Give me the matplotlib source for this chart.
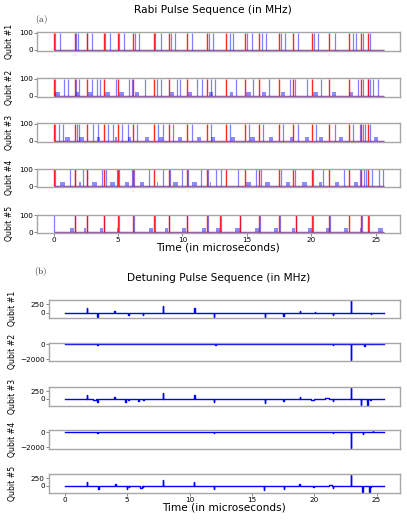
#This program draws the Rabi and detuning pulse sequences for five qubits

import matplotlib
matplotlib.use('Agg')
import matplotlib.pyplot as plt


#End of the sequence (microseconds)
T_END = 25.6

#Amplitude of the strong Rabi pulses and of the small blue plateaus (MHz)
PULSE_LEVEL = 100
BAR_LEVEL = 22

#Red pulse times shared by qubits 1 to 4
gate_times = [0.0, 1.65, 2.58, 3.90, 5.03, 6.17, 7.82, 8.93, 10.32, 11.92,
              13.42, 14.89, 15.97, 17.49, 18.58, 20.05, 21.41, 22.91, 23.89, 24.43]

#Qubit #1 (Rabi)
q1_blue = [0.08, 0.52, 1.75, 1.93, 2.62, 2.97, 4.02, 4.39, 5.10, 5.49, 6.32, 6.66,
           7.87, 8.31, 9.08, 9.42, 10.71, 12.07, 12.38, 13.67, 13.93, 15.02, 15.40,
           16.15, 16.46, 17.67, 17.98, 18.96, 20.18, 20.51, 21.80, 23.22, 23.48,
           23.99, 24.59]
q1_bar_start = []
q1_bar_width = []

#Qubit #2 (Rabi)
q2_blue = [0.13, 0.85, 1.16, 1.78, 1.96, 2.97, 3.35, 3.61, 4.82, 5.86, 6.11, 7.12,
           8.00, 8.33, 9.55, 9.80, 11.15, 11.53, 12.23, 12.51, 14.19, 15.48, 16.72,
           18.32, 18.76, 19.66, 20.77, 23.61, 23.99, 24.38, 24.59, 24.82, 25.15]
q2_bar_start = [0.13, 1.78, 2.66, 4.02, 5.11, 6.32, 9.03, 10.40, 12.07, 13.67,
                14.96, 16.15, 17.67, 20.12, 21.57, 22.96]
q2_bar_width = [0.39, 0.23, 0.31, 0.36, 0.36, 0.34, 0.31, 0.31, 0.31, 0.26,
                0.39, 0.31, 0.31, 0.39, 0.36, 0.31]

#Qubit #3 (Rabi)
q3_blue = [0.13, 0.39, 0.77, 1.81, 2.01, 3.04, 3.43, 4.26, 4.64, 5.29, 5.80, 6.50,
           8.13, 8.51, 9.24, 10.71, 12.18, 13.67, 15.17, 16.25, 17.80, 18.96, 20.33,
           21.80, 23.22, 23.74, 23.99, 24.15, 24.56]
q3_bar_start = [0.90, 1.99, 3.35, 4.77, 5.80, 7.09, 8.18, 9.62, 11.17, 12.18,
                13.75, 15.27, 16.72, 18.32, 19.48, 20.59, 22.14, 24.90]
q3_bar_width = [0.39, 0.34, 0.26, 0.18, 0.18, 0.31, 0.34, 0.31, 0.31, 0.34,
                0.31, 0.34, 0.31, 0.26, 0.31, 0.31, 0.31, 0.26]

#Qubit #4 (Rabi)
q4_blue = [0.13, 1.29, 1.70, 2.32, 2.63, 3.74, 4.08, 4.90, 5.08, 6.06, 6.24, 7.43,
           8.51, 9.03, 9.93, 10.45, 11.48, 12.00, 12.59, 13.03, 14.32, 15.74, 16.12,
           17.62, 18.71, 20.12, 20.90, 22.50, 23.74, 24.07, 24.25, 24.69, 25.28, 25.59]
q4_bar_start = [0.52, 1.99, 2.97, 4.39, 5.55, 6.71, 8.00, 9.29, 10.78, 12.13,
                14.96, 16.43, 18.01, 19.30, 20.59, 21.80, 23.35]
q4_bar_width = [0.39, 0.13, 0.39, 0.39, 0.34, 0.34, 0.13, 0.39, 0.36, 0.08,
                0.36, 0.34, 0.36, 0.36, 0.26, 0.34, 0.26]

#Qubit #5 (Rabi)
q5_red = [1.65, 2.58, 3.92, 5.03, 6.17, 7.82, 8.93, 10.32, 11.92, 12.93,
          14.45, 15.97, 17.49, 18.78, 20.05, 21.41, 22.91, 23.89, 24.43]
q5_blue = [0.0, 1.70, 2.63, 3.95, 5.08, 6.22, 7.87, 8.98, 10.37, 11.97, 12.98,
           14.50, 16.02, 17.54, 18.83, 20.10, 21.46, 23.94, 24.48]
q5_bar_start = [1.29, 2.37, 3.61, 4.90, 7.43, 8.64, 9.96, 11.53, 12.59, 14.11,
                15.63, 17.08, 18.52, 19.74, 21.16, 22.52, 23.74, 25.18]
q5_bar_width = [0.31, 0.15, 0.26, 0.13, 0.31, 0.26, 0.31, 0.28, 0.31, 0.34,
                0.31, 0.36, 0.21, 0.31, 0.26, 0.34, 0.13, 0.36]

#Detuning pulses: start time, duration and value (MHz)
d1_start = [1.74, 2.60, 3.97, 5.07, 6.25, 7.86, 10.36, 11.94, 14.54, 16.04,
            17.52, 18.83, 20.06, 21.49, 22.93, 24.54]
d1_dur = [0.04, 0.04, 0.04, 0.04, 0.04, 0.04, 0.04, 0.04, 0.04, 0.04,
          0.04, 0.04, 0.04, 0.04, 0.04, 0.04]
d1_value = [130, -120, 55, -65, -65, 195, 130, -120, -20, -140,
            -90, 60, 25, -65, 360, -55]

d2_start = [1.88, 2.60, 5.10, 6.30, 7.90, 12.05, 21.50, 22.93, 24.00, 24.60]
d2_dur = [0.04, 0.04, 0.04, 0.04, 0.04, 0.04, 0.04, 0.04, 0.04, 0.04]
d2_value = [20, -60, -30, -30, -30, -60, -60, -2160, -300, 110]

d3_start = [1.74, 2.23, 2.60, 3.35, 3.97, 4.83, 5.09, 5.90, 6.30, 7.86, 9.79,
            10.36, 11.94, 13.80, 16.04, 17.52, 18.36, 18.83, 19.70, 20.90, 21.49,
            22.93, 23.73, 24.26, 24.50]
d3_dur = [0.04, 0.25, 0.04, 0.30, 0.04, 0.04, 0.04, 0.04, 0.04, 0.04, 0.30,
          0.04, 0.04, 0.30, 0.04, 0.04, 0.25, 0.04, 0.25, 0.30, 0.04,
          0.04, 0.04, 0.04, 0.04]
d3_value = [130, -40, -120, -15, 50, -100, -60, -70, -60, 195, -15,
            130, -120, -10, -140, -90, -20, 50, -40, 20, -70,
            360, -210, -210, -50]

d4_start = [2.00, 2.60, 5.07, 6.25, 7.90, 11.94, 21.49, 22.93, 23.90, 24.70]
d4_dur = [0.04, 0.04, 0.04, 0.04, 0.04, 0.04, 0.04, 0.04, 0.04, 0.04]
d4_value = [20, -60, -30, -40, -30, -60, -60, -2160, -300, 100]

d5_start = [1.74, 2.30, 2.68, 3.55, 4.02, 4.96, 5.10, 6.05, 6.25, 7.86, 10.10,
            10.33, 11.93, 15.96, 17.57, 18.55, 18.80, 19.93, 21.20, 21.50,
            22.93, 23.87, 24.40, 24.50]
d5_dur = [0.04, 0.30, 0.04, 0.30, 0.04, 0.04, 0.04, 0.15, 0.04, 0.04, 0.20,
          0.04, 0.04, 0.04, 0.04, 0.20, 0.04, 0.04, 0.25, 0.04,
          0.04, 0.04, 0.04, 0.04]
d5_value = [130, -30, -110, -30, 50, -110, -60, -90, -60, 195, -15,
            130, -110, -140, -100, -20, 50, -60, 30, -70,
            360, -210, -210, -40]

qubit_labels = ['Qubit #1', 'Qubit #2', 'Qubit #3', 'Qubit #4', 'Qubit #5']
rabi_ticks = [0, 100]
detuning_ticks = [[0, 250], [-2000, 0], [0, 250], [-2000, 0], [0, 250]]
x_ticks = [0, 5, 10, 15, 20, 25]

SPINE = '#a6a6a6'


#Function to style one small axes
def styleAxes(ax, yticks, label, label_x, last):
    for s in ax.spines.values():
        s.set_color(SPINE)
        s.set_linewidth(1.0)
    ax.set_yticks(yticks)
    ax.tick_params(labelsize=5.2, length=2, width=0.5, pad=1, color='#555555')
    ax.set_xticks(x_ticks)
    if not last:
        ax.tick_params(axis='x', bottom=False, labelbottom=False)
    ax.set_ylabel(label, fontsize=5.6)
    ax.yaxis.set_label_coords(label_x, 0.5)


#Function to build a step curve out of detuning pulses
def detuningCurve(starts, durs, values):
    pulses = sorted(zip(starts, durs, values))
    xs = [0.0]
    ys = [0.0]
    for s, d, v in pulses:
        xs += [s, s, s + d, s + d]
        ys += [0, v, v, 0]
    xs.append(T_END)
    ys.append(0.0)
    return xs, ys


#Function to draw the Rabi panel
def drawRabi(fig):
    reds = [gate_times, gate_times, gate_times, gate_times, q5_red]
    blues = [q1_blue, q2_blue, q3_blue, q4_blue, q5_blue]
    bar_starts = [q1_bar_start, q2_bar_start, q3_bar_start, q4_bar_start, q5_bar_start]
    bar_widths = [q1_bar_width, q2_bar_width, q3_bar_width, q4_bar_width, q5_bar_width]
    tops = [32, 78, 123, 168.5, 214.5]

    for i in range(5):
        ax = fig.add_axes([37 / 407, 1 - (tops[i] + 18.5) / 527, 363 / 407, 18.5 / 527])

        #Baseline of both channels
        ax.hlines(0, 0, T_END, colors='r', alpha=0.5, linewidth=1.0)
        ax.hlines(0, 0, T_END, colors='b', alpha=0.4, linewidth=1.0)

        #Plateaus, blue pulses, red pulses
        ax.bar(bar_starts[i], [BAR_LEVEL] * len(bar_starts[i]), width=bar_widths[i],
               align='edge', color='b', alpha=0.45, linewidth=0)
        ax.vlines(blues[i], 0, PULSE_LEVEL, colors='b', alpha=0.5, linewidth=0.9)
        ax.vlines(reds[i], 0, PULSE_LEVEL, colors='r', alpha=0.85, linewidth=1.0)

        ax.set_xlim(-0.05 * T_END, 1.05 * T_END)
        ax.set_ylim(-0.05 * PULSE_LEVEL, 1.05 * PULSE_LEVEL)
        styleAxes(ax, rabi_ticks, qubit_labels[i], -0.062, i == 4)

    fig.text(213 / 407, 1 - 10 / 527, 'Rabi Pulse Sequence (in MHz)',
             ha='center', va='center', fontsize=7.6)
    fig.text(218 / 407, 1 - 248 / 527, 'Time (in microseconds)',
             ha='center', va='center', fontsize=7.6)
    fig.text(41 / 407, 1 - 19 / 527, r'$\mathrm{(a)}$', ha='center', va='center',
             fontsize=6.5, color='#222222')


#Function to draw the detuning panel
def drawDetuning(fig):
    starts = [d1_start, d2_start, d3_start, d4_start, d5_start]
    durs = [d1_dur, d2_dur, d3_dur, d4_dur, d5_dur]
    values = [d1_value, d2_value, d3_value, d4_value, d5_value]
    tops = [299.5, 342.5, 387, 430.5, 474]

    for i in range(5):
        ax = fig.add_axes([49 / 407, 1 - (tops[i] + 18.7) / 527, 351 / 407, 18.7 / 527])
        xs, ys = detuningCurve(starts[i], durs[i], values[i])
        ax.plot(xs, ys, color='b', linewidth=1.0)
        ax.set_xlim(-0.05 * T_END, 1.05 * T_END)
        styleAxes(ax, detuning_ticks[i], qubit_labels[i], -0.092, i == 4)

    fig.text(219 / 407, 1 - 278 / 527, 'Detuning Pulse Sequence (in MHz)',
             ha='center', va='center', fontsize=7.6)
    fig.text(224 / 407, 1 - 507 / 527, 'Time (in microseconds)',
             ha='center', va='center', fontsize=7.6)
    fig.text(41 / 407, 1 - 271 / 527, r'$\mathrm{(b)}$', ha='center', va='center',
             fontsize=6.5, color='#222222')


#Main
def main():
    plt.rcParams['mathtext.fontset'] = 'cm'
    fig = plt.figure(figsize=(4.07, 5.27), dpi=100)

    drawRabi(fig)
    drawDetuning(fig)

    fig.savefig('out.png', dpi=100)


#Main call
if __name__ == "__main__":
    main()
